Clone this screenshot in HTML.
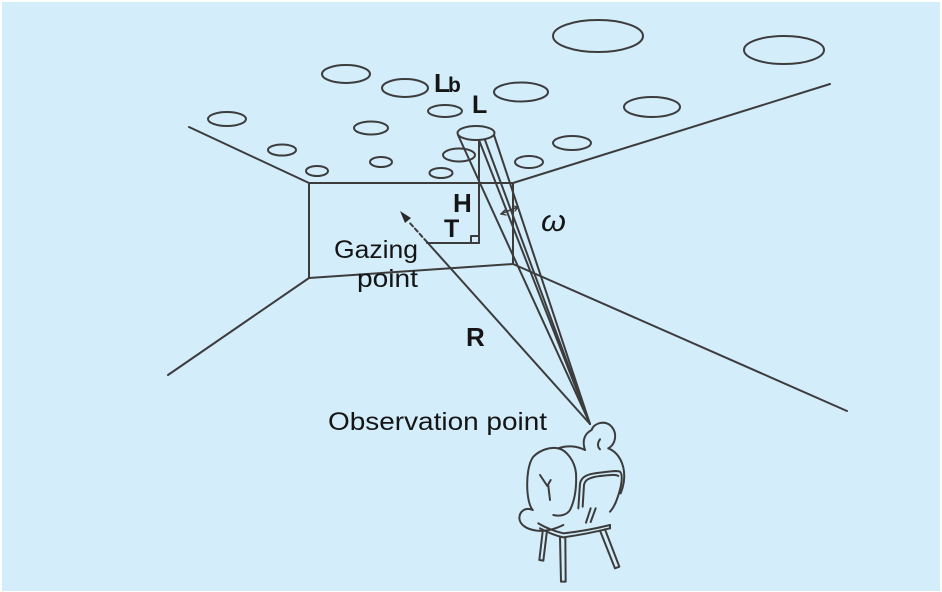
<!DOCTYPE html>
<html>
<head>
<meta charset="utf-8">
<style>
  html,body{margin:0;padding:0;background:#ffffff;}
  body{width:942px;height:592px;overflow:hidden;}
  svg{display:block;}
  text{font-family:"Liberation Sans", sans-serif;fill:#151515;}
</style>
</head>
<body>
<svg width="942" height="592" viewBox="0 0 942 592" xmlns="http://www.w3.org/2000/svg">
  <rect x="0" y="0" width="942" height="592" fill="#ffffff"/>
  <rect x="2" y="2" width="938" height="589" fill="#d4edfb"/>

  <g fill="none" stroke="#3c3c3c" stroke-width="2" stroke-linecap="round" stroke-linejoin="round">
    <!-- ceiling lights -->
    <ellipse cx="598" cy="36" rx="45" ry="16"/>
    <ellipse cx="784" cy="50" rx="40" ry="14"/>
    <ellipse cx="346" cy="74" rx="24" ry="9"/>
    <ellipse cx="405" cy="88" rx="23" ry="9"/>
    <ellipse cx="521" cy="92" rx="27" ry="9.5"/>
    <ellipse cx="445" cy="111" rx="17" ry="6"/>
    <ellipse cx="652" cy="107" rx="28" ry="10"/>
    <ellipse cx="227" cy="119" rx="19" ry="7"/>
    <ellipse cx="371" cy="128" rx="17" ry="6.5"/>
    <ellipse cx="572" cy="143" rx="19" ry="7"/>
    <ellipse cx="282" cy="150" rx="14" ry="5.5"/>
    <ellipse cx="459" cy="155" rx="16" ry="6.5"/>
    <ellipse cx="529" cy="162" rx="14" ry="6"/>
    <ellipse cx="381" cy="162" rx="11" ry="5"/>
    <ellipse cx="317" cy="171" rx="11" ry="5"/>
    <ellipse cx="441" cy="173" rx="11.5" ry="5"/>

    <!-- room -->
    <line x1="189" y1="127" x2="309" y2="183"/>
    <line x1="513" y1="183" x2="830" y2="84"/>
    <polygon points="309,183 513,183 513,264 309,278"/>
    <line x1="309" y1="278" x2="168" y2="375"/>
    <line x1="513" y1="264" x2="847" y2="411"/>

    <!-- light cylinder / cone -->
    <ellipse cx="476" cy="133" rx="18.5" ry="7" fill="#d4edfb"/>
    <line x1="458" y1="135" x2="590" y2="424"/>
    <line x1="479" y1="140" x2="590" y2="424"/>
    <line x1="485" y1="140" x2="590" y2="424"/>
    <line x1="494" y1="135" x2="590" y2="424"/>

    <!-- H / T -->
    <line x1="479" y1="140" x2="479" y2="243"/>
    <line x1="427" y1="243" x2="479" y2="243"/>
    <rect x="471" y="236" width="8" height="7"/>

    <!-- omega arc -->
    <path d="M501,214 Q510,210 518,207" stroke-width="1.6"/>
    <path d="M505,210 L501,214 L506,215" stroke-width="1.4"/>
    <path d="M513,206 L518,207 L515,211" stroke-width="1.4"/>

    <!-- R arrow -->
    <line x1="590" y1="424" x2="427" y2="242"/>
    <line x1="427" y1="242" x2="409" y2="222" stroke-dasharray="4,3"/>
  </g>
  <polygon points="400,211 411,218 405,223" fill="#2a2a2a"/>

  <!-- person on chair -->
  <g transform="translate(500,400) scale(0.33333)" fill="none" stroke="#3c3c3c" stroke-width="6" stroke-linecap="round" stroke-linejoin="round">
    <path d="M255,150 C245,120 255,100 275,90 C280,70 315,58 335,80 C352,100 348,132 325,145"/>
    <path d="M300,118 C292,128 292,140 300,148"/>
    <path d="M325,145 C350,155 368,180 372,215 C375,240 368,265 362,280"/>
    <path d="M255,150 C230,138 200,135 175,145 C150,140 120,150 100,170 C85,190 80,230 82,270 C84,300 90,320 98,330"/>
    <path d="M98,330 C75,320 58,335 58,355 C60,375 80,388 110,392 C140,395 170,385 190,375"/>
    <path d="M175,145 C200,150 225,185 228,220 C230,260 225,300 210,330 C200,345 180,350 160,345"/>
    <path d="M120,225 L142,258 L152,240"/>
    <path d="M145,258 L150,300"/>
    <path d="M240,250 C245,230 260,222 300,218 C330,215 350,210 360,215 C370,225 365,260 350,300 C345,315 335,330 330,335"/>
    <path d="M252,255 C255,238 270,232 300,228 C330,225 348,222 355,228"/>
    <path d="M240,250 L235,325"/>
    <path d="M252,255 L248,320"/>
    <path d="M115,370 C140,385 170,395 190,400 C240,395 290,385 330,375"/>
    <path d="M120,385 C145,398 170,408 190,412 C240,405 290,395 330,385"/>
    <path d="M330,375 L330,385"/>
    <path d="M128,395 L118,480 L130,482 L140,400"/>
    <path d="M180,412 L183,545 L197,545 L196,412"/>
    <path d="M300,392 L345,505 L358,500 L315,388"/>
    <path d="M272,325 L258,368"/>
    <path d="M287,325 L272,366"/>
  </g>

  <!-- labels -->
  <text x="434" y="92" font-size="26" font-weight="bold">L</text>
  <text x="448" y="92" font-size="21" font-weight="bold">b</text>
  <text x="472" y="113" font-size="25" font-weight="bold">L</text>
  <text x="453" y="212" font-size="26" font-weight="bold">H</text>
  <text x="444" y="237" font-size="25" font-weight="bold">T</text>
  <text x="466" y="346" font-size="26" font-weight="bold">R</text>
  <text x="541" y="231" font-size="30" font-style="italic" textLength="25" lengthAdjust="spacingAndGlyphs">ω</text>
  <text x="334" y="258" font-size="25" textLength="84" lengthAdjust="spacingAndGlyphs">Gazing</text>
  <text x="357" y="287" font-size="25" textLength="61" lengthAdjust="spacingAndGlyphs">point</text>
  <text x="328" y="430" font-size="25" textLength="219" lengthAdjust="spacingAndGlyphs">Observation point</text>
</svg>
</body>
</html>
